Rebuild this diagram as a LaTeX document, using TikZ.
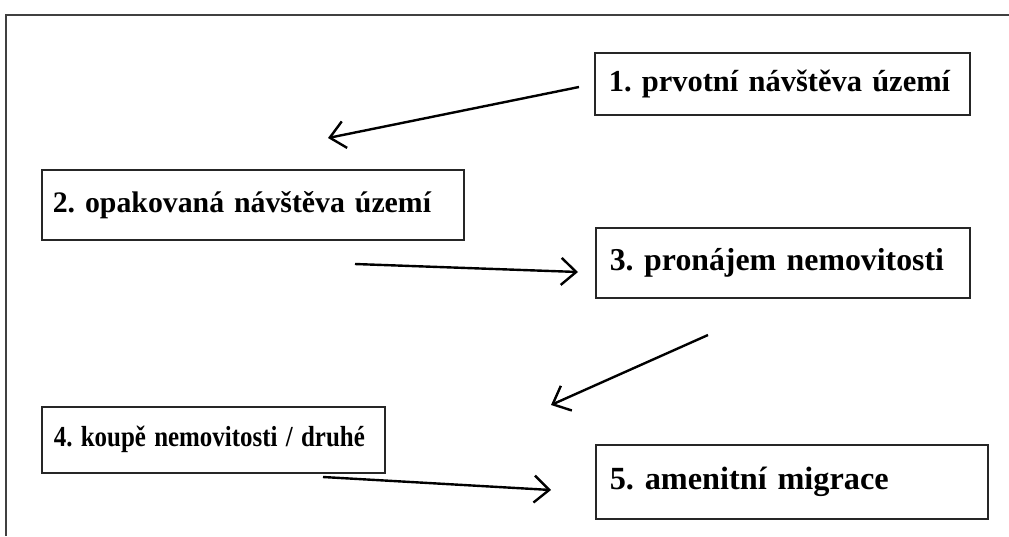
\documentclass[tikz,border=0pt]{standalone}
\usepackage{fontspec}
\setmainfont{Liberation Serif}
\usetikzlibrary{positioning,arrows.meta}
\tikzset{
  stage/.style={draw=black!85, line width=1.6pt, anchor=north west, inner xsep=14pt,
    align=left, font=\fontsize{30.5}{36}\bfseries\selectfont},
  flow/.style={line width=2.4pt, -{Straight Barb[length=15pt,width=27pt]}},
  frame/.style={draw=black!75, line width=2pt}
}
\begin{document}
\frenchspacing
\begin{tikzpicture}[x=1pt,y=-1pt]
  \useasboundingbox (0,0) rectangle (1009,536);
  \draw[frame] (1009,15) -- (6,15) -- (6,536);
  % stages of the migration
  \node[stage, text width=347pt, minimum height=62pt] (s1) at (594,52) {1. prvotní návštěva území};
  \node[stage, inner xsep=11pt, text width=400pt, minimum height=70pt,
    font=\fontsize{29.8}{36}\bfseries\selectfont] (s2) at (41,169) {\raisebox{5pt}{2. opakovaná návštěva území}};
  \node[stage, text width=346pt, minimum height=70pt,
    font=\fontsize{31.8}{36}\bfseries\selectfont] (s3) at (595,227) {\raisebox{3pt}{3. pronájem nemovitosti}};
  \node[stage, inner xsep=12pt, text width=319pt, minimum height=66pt,
    font=\fontsize{29}{34}\bfseries\selectfont] (s4) at (41,406) {\scalebox{0.86}[1]{4. koupě nemovitosti / druhé}};
  \node[stage, text width=364pt, minimum height=74pt,
    font=\fontsize{32.3}{36}\bfseries\selectfont] (s5) at (595,444) {\raisebox{4pt}{5. amenitní migrace}};
  % arrow ends
  \coordinate (a1) at (579,87);
  \coordinate (b1) at (328,138);
  \coordinate (a2) at (355,264);
  \coordinate (b2) at (578,272);
  \coordinate (a3) at (708,335);
  \coordinate (b3) at (551,405);
  \coordinate (a4) at (323,477);
  \coordinate (b4) at (551,490);
  \draw[flow] (a1) -- (b1);
  \draw[flow] (a2) -- (b2);
  \draw[flow] (a3) -- (b3);
  \draw[flow] (a4) -- (b4);
\end{tikzpicture}
\end{document}
